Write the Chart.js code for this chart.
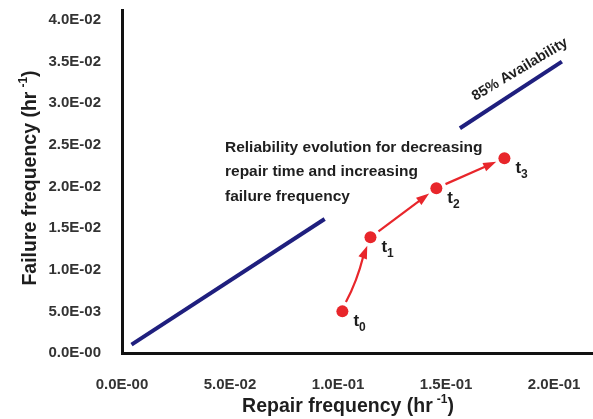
<!DOCTYPE html>
<html>
<head>
<meta charset="utf-8">
<script src="https://cdn.jsdelivr.net/npm/chart.js@4"></script>
<style>
  html, body { margin: 0; padding: 0; background: #fff; }
  #wrap { width: 593px; height: 419px; }
</style>
</head>
<body>
<div id="wrap"><canvas id="myChart" width="593" height="419"></canvas></div>
<script>
// states t0..t3
const stepNames = ['0', '1', '2', '3'];
const repairFreq = [0.102, 0.115, 0.1455, 0.177];
const failureFreq = [0.005, 0.0139, 0.0198, 0.0234];

// 85% availability line (two pieces)
const availLowX = [0.0044, 0.0938];
const availLowY = [0.001, 0.0161];
const availHighX = [0.1564, 0.2036];
const availHighY = [0.027, 0.035];

const xTickValues = [0, 0.05, 0.1, 0.15, 0.2];
const xTickLabels = ['0.0E-00', '5.0E-02', '1.0E-01', '1.5E-01', '2.0E-01'];
const yTickValues = [0, 0.005, 0.01, 0.015, 0.02, 0.025, 0.03, 0.035, 0.04];
const yTickLabels = ['0.0E-00', '5.0E-03', '1.0E-02', '1.5E-02', '2.0E-02', '2.5E-02', '3.0E-02', '3.5E-02', '4.0E-02'];

const FONT = "'Liberation Sans', Arial, sans-serif";

function toPoints(xs, ys) {
  return xs.map((x, i) => ({x: x, y: ys[i]}));
}

function drawArrow(ctx, p, q, bulge) {
  const dx = q.x - p.x, dy = q.y - p.y;
  const len = Math.sqrt(dx * dx + dy * dy);
  const ux = dx / len, uy = dy / len;
  const sx = p.x + ux * 10, sy = p.y + uy * 10;
  const ex = q.x - ux * 9, ey = q.y - uy * 9;
  const head = 13, half = 4.5;
  const bx = ex - ux * head, by = ey - uy * head;
  ctx.save();
  ctx.strokeStyle = '#e8262b';
  ctx.fillStyle = '#e8262b';
  ctx.lineWidth = 2.2;
  ctx.beginPath();
  ctx.moveTo(sx, sy);
  if (bulge) {
    const mx = (sx + bx) / 2 - uy * bulge, my = (sy + by) / 2 + ux * bulge;
    ctx.quadraticCurveTo(mx, my, bx + ux * 2, by + uy * 2);
  } else {
    ctx.lineTo(bx + ux * 2, by + uy * 2);
  }
  ctx.stroke();
  ctx.beginPath();
  ctx.moveTo(ex, ey);
  ctx.lineTo(bx - uy * half, by + ux * half);
  ctx.lineTo(bx + uy * half, by - ux * half);
  ctx.closePath();
  ctx.fill();
  ctx.restore();
}

const decorations = {
  id: 'decorations',
  beforeDatasetsDraw(chart) {
    const ctx = chart.ctx;
    const pts = chart.getDatasetMeta(2).data;
    for (let i = 0; i < pts.length - 1; i++) {
      drawArrow(ctx, pts[i], pts[i + 1], i === 0 ? 3 : 0);
    }
  },
  afterDraw(chart) {
    const ctx = chart.ctx;
    ctx.save();
    ctx.fillStyle = '#1e1e1e';
    ctx.textBaseline = 'alphabetic';

    // point names t0..t3
    const pts = chart.getDatasetMeta(2).data;
    pts.forEach((p, i) => {
      ctx.font = 'bold 17px ' + FONT;
      ctx.textAlign = 'left';
      ctx.fillText('t', p.x + 11, p.y + 15);
      const w = ctx.measureText('t').width;
      ctx.font = 'bold 12px ' + FONT;
      ctx.fillText(stepNames[i], p.x + 11 + w, p.y + 20);
    });

    // annotation
    ctx.font = 'bold 15.5px ' + FONT;
    ctx.fillText('Reliability evolution for decreasing', 225, 152);
    ctx.fillText('repair time and increasing', 225, 176);
    ctx.fillText('failure frequency', 225, 201);

    ctx.save();
    ctx.translate(522, 73);
    ctx.rotate(-31 * Math.PI / 180);
    ctx.textAlign = 'center';
    ctx.font = 'bold 14.5px ' + FONT;
    ctx.fillText('85% Availability', 0, 0);
    ctx.restore();

    // axis titles with superscript
    function titleWithSup(main, x, y) {
      ctx.font = 'bold 19.5px ' + FONT;
      const w1 = ctx.measureText(main).width;
      ctx.font = 'bold 12px ' + FONT;
      const w2 = ctx.measureText('-1').width;
      ctx.font = 'bold 19.5px ' + FONT;
      const w3 = ctx.measureText(')').width;
      const total = w1 + 4 + w2 + w3;
      let cx = x - total / 2;
      ctx.textAlign = 'left';
      ctx.fillText(main, cx, y);
      cx += w1 + 4;
      ctx.font = 'bold 12px ' + FONT;
      ctx.fillText('-1', cx, y - 9);
      cx += w2;
      ctx.font = 'bold 19.5px ' + FONT;
      ctx.fillText(')', cx, y);
    }
    titleWithSup('Repair frequency (hr', 348, 412);

    ctx.save();
    ctx.translate(36, 178);
    ctx.rotate(-Math.PI / 2);
    titleWithSup('Failure frequency (hr', 0, 0);
    ctx.restore();

    ctx.restore();
  }
};

function initChart() {
  const ctx = document.getElementById('myChart').getContext('2d');
  return new Chart(ctx, {
    type: 'scatter',
    data: {
      datasets: [{
        type: 'line',
        data: toPoints(availLowX, availLowY),
        borderColor: '#1f1f7e',
        borderWidth: 4,
        pointRadius: 0,
        fill: false
      }, {
        type: 'line',
        data: toPoints(availHighX, availHighY),
        borderColor: '#1f1f7e',
        borderWidth: 4,
        pointRadius: 0,
        fill: false
      }, {
        data: toPoints(repairFreq, failureFreq),
        backgroundColor: '#e8262b',
        borderColor: '#e8262b',
        pointRadius: 6,
        pointBorderWidth: 0
      }]
    },
    options: {
      responsive: false,
      animation: false,
      devicePixelRatio: 1,
      layout: { autoPadding: false, padding: { top: 10, right: 0, left: 0, bottom: 0 } },
      plugins: { legend: { display: false }, tooltip: { enabled: false } },
      scales: {
        x: {
          type: 'linear',
          min: 0,
          max: 0.218,
          grid: { display: false },
          border: { display: true, color: '#111', width: 3 },
          afterBuildTicks: s => { s.ticks = xTickValues.map(v => ({value: v})); },
          afterFit: s => { s.height = 66; s.paddingLeft = 0; s.paddingRight = 0; },
          ticks: {
            autoSkip: false,
            maxRotation: 0,
            padding: 15,
            color: '#333',
            font: { family: FONT, size: 15, weight: 'bold' },
            callback: (v, i) => xTickLabels[i]
          }
        },
        y: {
          min: 0,
          max: 0.0412,
          grid: { display: false },
          border: { display: true, color: '#111', width: 3 },
          afterBuildTicks: s => { s.ticks = yTickValues.map(v => ({value: v})); },
          afterFit: s => { s.width = 122; s.paddingTop = 0; s.paddingBottom = 0; },
          ticks: {
            autoSkip: false,
            padding: 13,
            color: '#333',
            font: { family: FONT, size: 15, weight: 'bold' },
            callback: (v, i) => yTickLabels[i]
          }
        }
      }
    },
    plugins: [decorations]
  });
}

document.addEventListener('DOMContentLoaded', function() {
  initChart();
});
</script>
</body>
</html>
